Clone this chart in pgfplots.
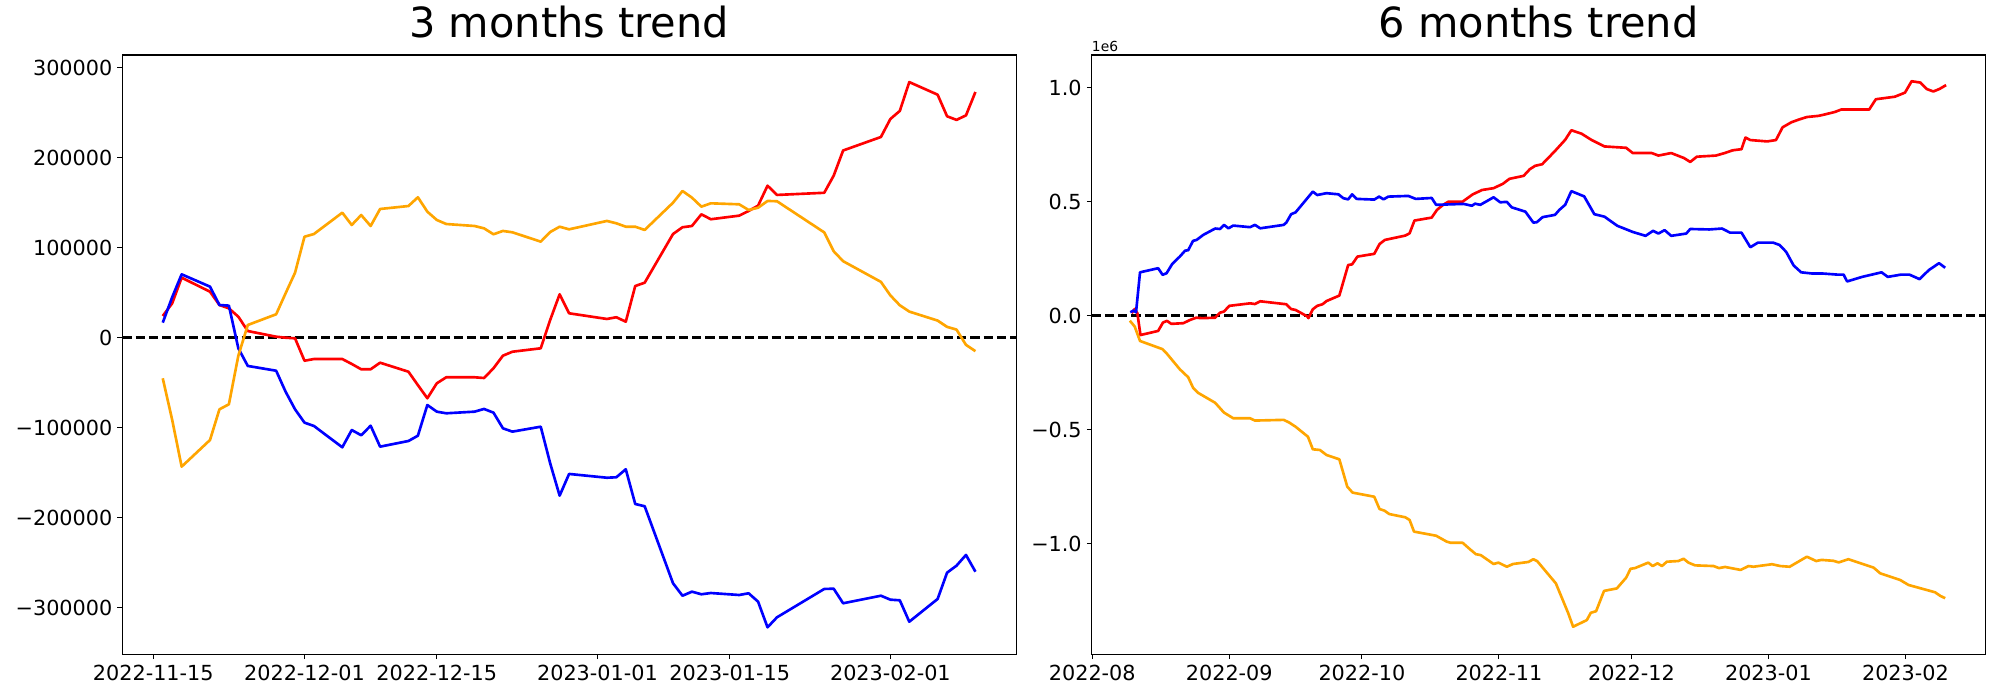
\documentclass[border=0pt]{standalone}
\usepackage{fontspec}
\setmainfont{DejaVu Sans}
\usepackage{pgfplots}
\pgfplotsset{compat=1.18}
\definecolor{mplorange}{HTML}{FFA500}

\pgfplotsset{
  trend/.style={
    scale only axis, width=643.5bp, height=431.5bp,
    anchor=south west,
    axis line style={line width=0.8bp},
    tick align=outside, tick pos=left,
    major tick length=3.5bp,
    every tick/.style={black, line width=0.8bp},
    scaled y ticks=false,
    tick label style={font=\fontsize{15}{18}\selectfont, inner sep=0pt},
    yticklabel style={anchor=east, xshift=-3.5bp},
    xticklabel style={anchor=north, yshift=-4.2bp},
    title style={at={(0.5,1)}, anchor=base, yshift=6.5bp, font=\fontsize{30}{36}\selectfont},
    /pgf/number format/assume math mode=true,
    every axis plot/.append style={no marks, line width=1.9bp, line join=round},
  },
  zeroline/.style={black, line width=1.8bp, dash pattern=on 6.66bp off 2.88bp},
}

\begin{document}
\begin{tikzpicture}
\path[use as bounding box] (0,0) rectangle (1440bp,504bp);

% ---- left: 3 months
\begin{axis}[trend, at={(88.06bp,32.9bp)},
  title={3 months trend},
  xmin=-3.28, xmax=91.3, ymin=-351800, ymax=314100,
  xtick={0,16,30,47,61,78},
  xticklabels={2022-11-15,2022-12-01,2022-12-15,2023-01-01,2023-01-15,2023-02-01},
  ytick={-300000,-200000,-100000,0,100000,200000,300000},
  yticklabels={−300000,−200000,−100000,0,100000,200000,300000},
]
\addplot[zeroline] coordinates {(-3.28,0) (91.3,0)};
% red
\addplot[red] coordinates {
(1,24100) (2,38200) (3,66700) (6,51100) (7,36300) (8,32600) (9,23300) (10,7400)
(13,1100) (14,0) (15,-700) (16,-25600) (17,-23700) (20,-23700) (21,-29200) (22,-35100)
(23,-35100) (24,-27800) (27,-37800) (28,-52700) (29,-67300) (30,-50700) (31,-44000)
(34,-44000) (35,-44800) (36,-34000) (37,-20000) (38,-15600) (41,-11800) (42,19700)
(43,48200) (44,27100) (48,20800) (49,22700) (50,17800) (51,57400) (52,61100)
(55,115200) (56,122700) (57,124100) (58,137100) (59,131600) (62,135600) (63,140800)
(64,146700) (65,168900) (66,158600) (71,161000) (72,180000) (73,208000) (77,223000)
(78,243000) (79,252000) (80,284000) (83,270000) (84,246000) (85,242000) (86,247000)
(87,273000)};
% blue
\addplot[blue] coordinates {
(1,16700) (2,45000) (3,70400) (6,56700) (7,36300) (8,35600) (9,-11800) (10,-31400)
(13,-36700) (14,-60000) (15,-79600) (16,-94400) (17,-98100) (20,-121800) (21,-102600)
(22,-108400) (23,-97800) (24,-121100) (27,-114800) (28,-108900) (29,-74800) (30,-82200)
(31,-84000) (34,-82200) (35,-79200) (36,-83300) (37,-100700) (38,-104400) (41,-98900)
(42,-139600) (43,-175500) (44,-151400) (48,-155600) (49,-155100) (50,-146200)
(51,-184800) (52,-187300) (55,-272900) (56,-286700) (57,-282200) (58,-285100)
(59,-283700) (62,-285900) (63,-284000) (64,-293300) (65,-321800) (66,-310700)
(71,-279200) (72,-278900) (73,-295100) (77,-286700) (78,-291100) (79,-291800)
(80,-315600) (83,-290300) (84,-261100) (85,-253300) (86,-241400) (87,-260000)};
% orange
\addplot[mplorange] coordinates {
(1,-45100) (2,-91400) (3,-143300) (6,-113700) (7,-79600) (8,-74000) (9,-20000)
(10,14100) (13,26000) (14,49300) (15,72200) (16,112200) (17,115200) (20,138900)
(21,125200) (22,136300) (23,124100) (24,143000) (27,146300) (28,156000) (29,140000)
(30,130800) (31,126300) (34,124100) (35,121500) (36,114900) (37,118600) (38,117100)
(41,106700) (42,117400) (43,123300) (44,120400) (48,129700) (49,127100) (50,123300)
(51,123300) (52,119700) (55,150000) (56,163000) (57,155600) (58,145600) (59,149300)
(62,148200) (63,141900) (64,144400) (65,151900) (66,151600) (71,117000) (72,96000)
(73,85000) (77,62000) (78,47000) (79,36000) (80,29000) (83,19000) (84,12000)
(85,9000) (86,-8000) (87,-15000)};
\end{axis}

% ---- right: 6 months (values in units of 1e6)
\begin{axis}[trend, at={(786.0bp,32.9bp)}, name=six,
  title={6 months trend},
  xmin=-0.14, xmax=202.1, ymin=-1.485, ymax=1.143,
  xtick={0,31,61,92,122,153,184},
  xticklabels={2022-08,2022-09,2022-10,2022-11,2022-12,2023-01,2023-02},
  ytick={-1,-0.5,0,0.5,1},
  yticklabels={−1.0,−0.5,0.0,0.5,1.0},
]
\addplot[zeroline] coordinates {(-0.14,0) (202.1,0)};
% red
\addplot[red] coordinates {
(8.9,0.011) (9.6,0.029) (10.2,0.011) (10.9,-0.085) (14.9,-0.067) (16,-0.030)
(16.9,-0.023) (17.9,-0.036) (20.6,-0.033) (22.1,-0.019) (23.5,-0.009) (24.8,-0.011)
(27.8,-0.009) (28.9,0.013) (29.8,0.018) (31,0.043) (35.7,0.054) (36.8,0.051)
(38,0.063) (43.9,0.05) (45,0.029) (46,0.025) (48.7,-0.004) (48.9,-0.011) (49.9,0.028)
(50.9,0.043) (52.1,0.05) (53,0.064) (55.9,0.088) (57.9,0.222) (58.8,0.225) (60,0.259)
(63.8,0.271) (65,0.314) (66.2,0.332) (70.8,0.351) (71.8,0.361) (72.9,0.417)
(76.8,0.43) (78,0.464) (79.4,0.486) (80.6,0.5) (83.8,0.5) (86.1,0.532) (88.2,0.551)
(90.8,0.559) (92.9,0.578) (94.4,0.6) (97.6,0.613) (99,0.642) (100.2,0.657)
(101.8,0.664) (104.7,0.722) (107,0.771) (108.4,0.813) (110.7,0.798) (113,0.77)
(115.9,0.742) (120.8,0.736) (122.3,0.713) (126.6,0.713) (128.1,0.702) (131,0.713)
(133.9,0.691) (135.3,0.674) (136.8,0.697) (141.1,0.702) (143.1,0.713) (144.9,0.725)
(146.9,0.73) (147.8,0.781) (148.9,0.77) (152.7,0.764) (154.7,0.77) (156.2,0.826)
(158.2,0.848) (159.9,0.86) (161.7,0.871) (164.3,0.876) (165.7,0.882) (168,0.893)
(169.5,0.904) (175.8,0.904) (177.3,0.949) (181.6,0.96) (183.9,0.978) (185.4,1.028)
(187.4,1.022) (188.8,0.994) (190.3,0.983) (191.7,0.994) (193.2,1.011)};
% blue
\addplot[blue] coordinates {
(8.6,0.015) (9.3,0.022) (9.9,0.015) (10.8,0.19) (14.9,0.208) (15.9,0.179)
(16.8,0.186) (18.1,0.227) (19.8,0.259) (21,0.285) (21.7,0.287) (22.8,0.328)
(23.6,0.332) (25.1,0.354) (27.8,0.382) (28.9,0.38) (29.8,0.398) (30.8,0.383)
(31.9,0.395) (35.7,0.388) (36.8,0.398) (38,0.383) (43.3,0.398) (43.9,0.408)
(45,0.445) (46,0.453) (49.9,0.544) (50.9,0.529) (53,0.537) (55.7,0.532) (56.8,0.515)
(57.9,0.51) (58.8,0.532) (59.8,0.512) (63.8,0.509) (64.9,0.522) (65.9,0.51)
(67,0.522) (71.5,0.525) (73.2,0.512) (76.8,0.516) (77.8,0.486) (84,0.49)
(85.9,0.482) (86.6,0.491) (87.8,0.486) (90.8,0.519) (92.3,0.497) (93.8,0.499)
(94.9,0.475) (98,0.456) (99.8,0.408) (100.6,0.41) (101.9,0.432) (104.7,0.442)
(105.7,0.464) (107,0.486) (108.4,0.546) (111.3,0.523) (113.6,0.445) (115.9,0.434)
(118.8,0.394) (122.3,0.367) (125.2,0.35) (126.9,0.372) (128.1,0.36) (129.5,0.375)
(131,0.35) (134.4,0.36) (135.3,0.38) (139.6,0.378) (142.5,0.382) (144.3,0.364)
(146.9,0.364) (148.9,0.30) (150.6,0.32) (154.1,0.32) (155.5,0.31) (157,0.28)
(158.7,0.22) (160.4,0.19) (162.8,0.185) (165.1,0.185) (168.6,0.18) (170,0.18)
(170.8,0.15) (172.5,0.16) (174.2,0.17) (178.6,0.19) (180,0.17) (183,0.18)
(184.9,0.18) (187.2,0.16) (189.3,0.2) (191.6,0.23) (193,0.21)};
% orange
\addplot[mplorange] coordinates {
(8.5,-0.022) (9.6,-0.048) (10.8,-0.111) (15.9,-0.147) (16.8,-0.165) (19.8,-0.235)
(21.7,-0.27) (22.8,-0.316) (23.9,-0.338) (27.8,-0.382) (29.8,-0.425) (31.9,-0.45)
(35.7,-0.45) (36.8,-0.46) (43.3,-0.457) (44.5,-0.468) (46,-0.487) (48.8,-0.531)
(49.9,-0.586) (51.5,-0.589) (53,-0.611) (55.9,-0.63) (57.7,-0.75) (58.9,-0.776)
(63.8,-0.794) (65,-0.848) (66.1,-0.855) (67.2,-0.87) (70.8,-0.884) (71.8,-0.896)
(72.8,-0.947) (77.8,-0.965) (80.2,-0.991) (81.1,-0.996) (83.8,-0.996) (85.5,-1.025)
(86.8,-1.046) (87.9,-1.05) (90.8,-1.089) (91.9,-1.083) (93.8,-1.101) (95.2,-1.089)
(98.7,-1.08) (99.8,-1.068) (100.7,-1.077) (104.9,-1.174) (107.7,-1.305) (108.8,-1.364)
(111.9,-1.335) (112.8,-1.303) (114,-1.296) (115.8,-1.207) (118.7,-1.196) (120.8,-1.149)
(121.8,-1.11) (122.8,-1.107) (125.8,-1.083) (126.8,-1.098) (127.9,-1.086) (128.9,-1.098)
(130,-1.079) (132.6,-1.076) (133.8,-1.066) (134.9,-1.083) (136.4,-1.095) (140.6,-1.098)
(141.8,-1.107) (143.2,-1.102) (146.7,-1.115) (148.5,-1.098) (149.6,-1.101) (153.8,-1.09)
(155.7,-1.098) (157.8,-1.101) (161.7,-1.057) (163.8,-1.076) (165,-1.071) (167.7,-1.075)
(168.9,-1.082) (171.1,-1.068) (176.8,-1.105) (178.3,-1.13) (179.4,-1.137) (182.8,-1.159)
(184.7,-1.181) (186.2,-1.189) (190.7,-1.213) (191.9,-1.229) (193,-1.239)};
\end{axis}
% scale marker of the right axis, outside the clipped axis body
\node[anchor=base west, inner sep=0pt, font=\fontsize{10}{12}\selectfont]
  at ([yshift=2.4bp]six.north west) {1e6};
\end{tikzpicture}
\end{document}
